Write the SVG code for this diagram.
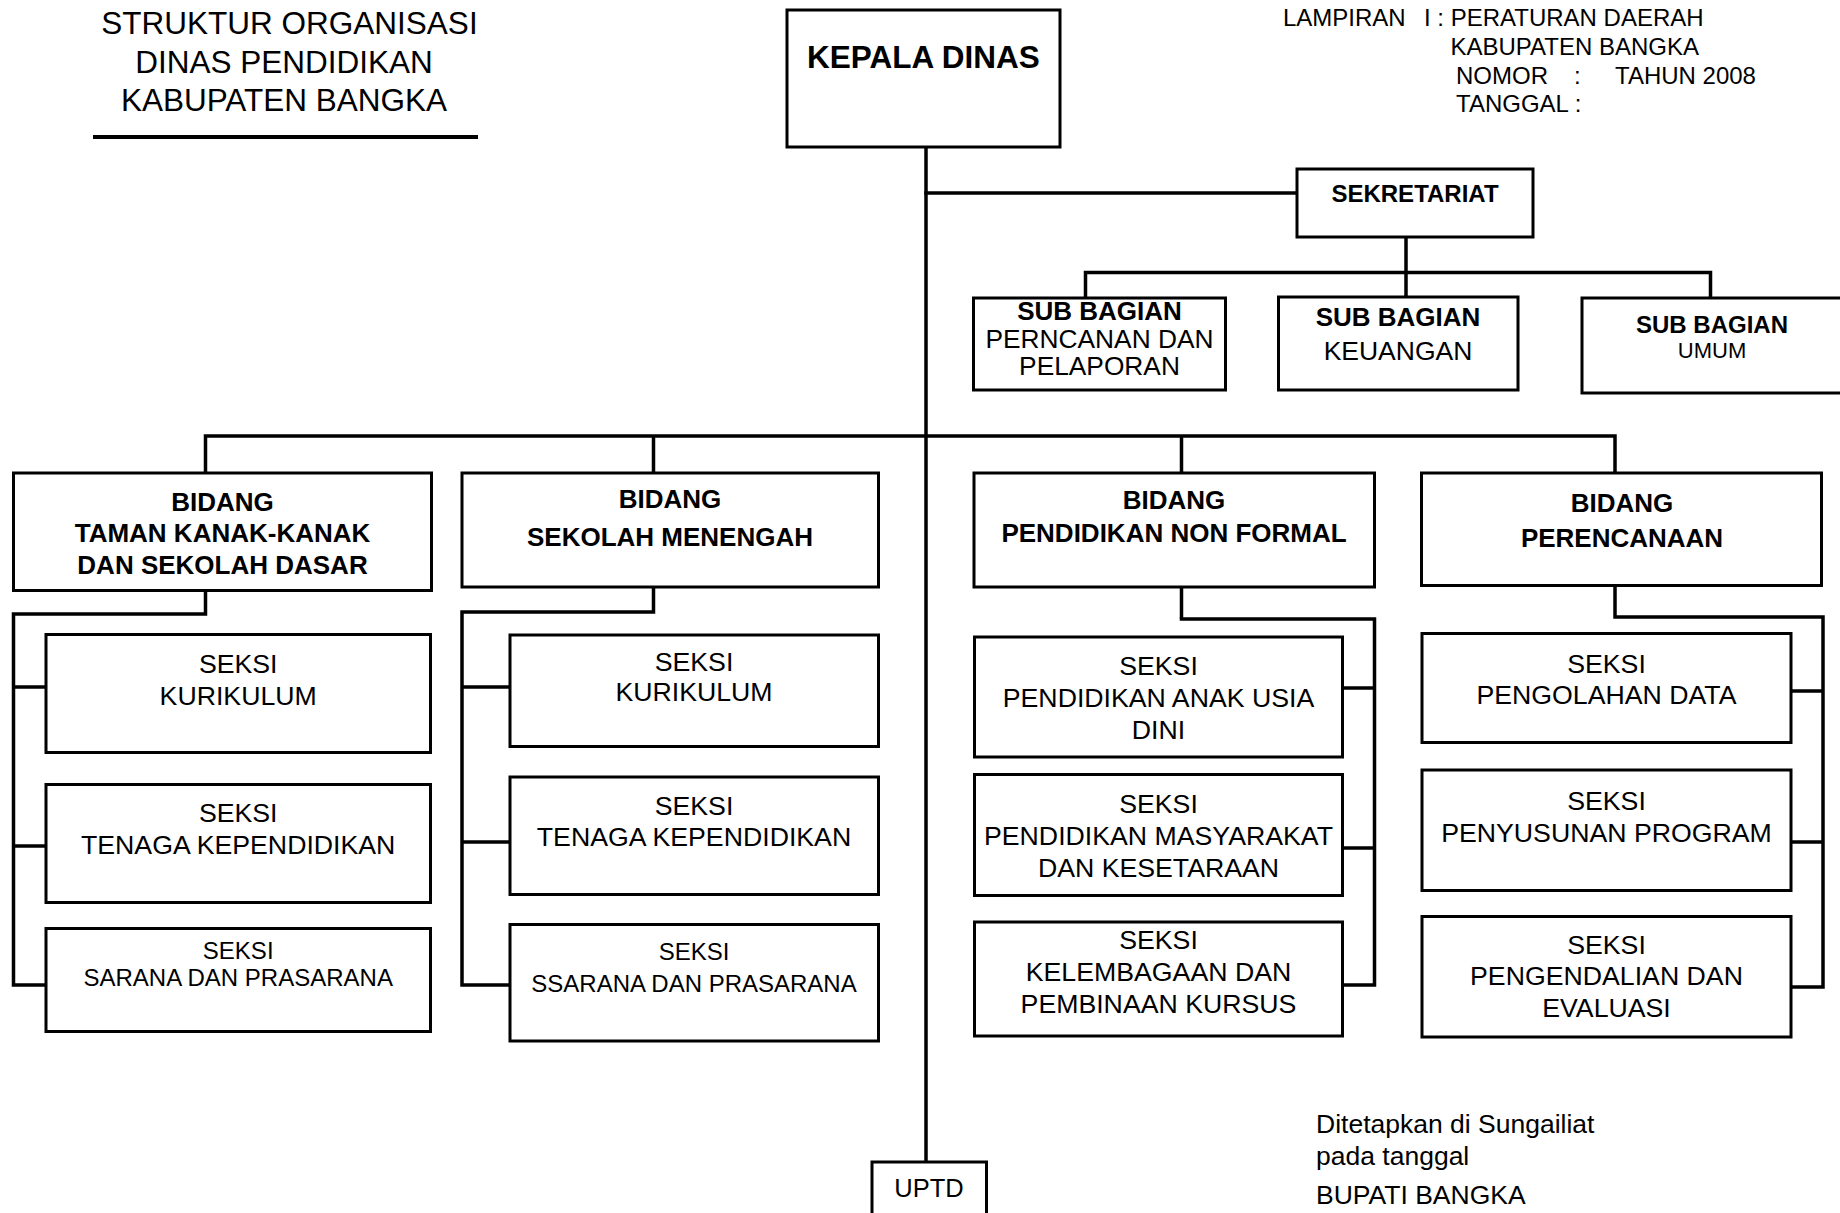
<svg xmlns="http://www.w3.org/2000/svg" width="1840" height="1213" viewBox="0 0 1840 1213">
<style>
.box{fill:#fff;stroke:#000;stroke-width:3}
.ln{stroke:#000;stroke-width:3.5;fill:none;stroke-linecap:square}
text{font-family:"Liberation Sans",Arial,Helvetica,sans-serif;fill:#000}
.b{font-weight:bold}
.c{text-anchor:middle}
.s{font-size:26.7px}
.s2{font-size:24px}
.bd{font-size:26px;font-weight:bold}
</style>
<rect x="0" y="0" width="1840" height="1213" fill="#fff"/>

<g id="title">
<text x="289.5" y="34" class="c" font-size="31.5">STRUKTUR ORGANISASI</text>
<text x="284" y="72.5" class="c" font-size="31.5">DINAS PENDIDIKAN</text>
<text x="284" y="111" class="c" font-size="31.5">KABUPATEN BANGKA</text>
<line x1="93" y1="137" x2="478" y2="137" stroke="#000" stroke-width="4"/>
</g>

<g id="lampiran" font-size="24">
<text x="1283" y="26">LAMPIRAN</text>
<text x="1424" y="26">I : PERATURAN DAERAH</text>
<text x="1450.5" y="55">KABUPATEN BANGKA</text>
<text x="1456" y="84">NOMOR</text>
<text x="1574" y="84">:</text>
<text x="1615" y="84">TAHUN 2008</text>
<text x="1456" y="112">TANGGAL :</text>
</g>

<g id="connectors">
<path class="ln" d="M926 147 V1162"/>
<path class="ln" d="M926 193 H1297"/>
<path class="ln" d="M1406 237 V272.5 M1085.5 272.5 H1710.5 M1085.5 272.5 V297 M1406 272.5 V297 M1710.5 272.5 V297"/>
<path class="ln" d="M205.5 436 H1615 M205.5 436 V473 M653.5 436 V473 M1181.5 436 V473 M1615 436 V473"/>
<path class="ln" d="M205.5 590.5 V614 H13.5 V985 M13.5 687 H46 M13.5 846 H46 M13.5 985 H46"/>
<path class="ln" d="M653.5 587 V612 H462 V985 M462 687 H510 M462 842 H510 M462 985 H510"/>
<path class="ln" d="M1181.5 587 V617"/>
<path class="ln" d="M1181.5 619 H1374.5 V985 M1343 688 H1374.5 M1343 848 H1374.5 M1343 985 H1374.5"/>
<path class="ln" d="M1615 585 V617 H1823 V987 M1791 691 H1823 M1791 842 H1823 M1791 987 H1823"/>
</g>

<g id="kepala-dinas">
<rect class="box" x="787" y="10" width="273" height="137"/>
<text x="923.5" y="68" class="c b" font-size="31.5">KEPALA DINAS</text>
</g>

<g id="sekretariat">
<rect class="box" x="1297" y="169" width="236" height="68"/>
<text x="1415" y="201.5" class="c b" font-size="24">SEKRETARIAT</text>
</g>

<g id="subbag-perencanaan">
<rect class="box" x="973.5" y="298" width="252" height="92"/>
<text x="1099.5" y="320" class="c bd">SUB BAGIAN</text>
<text x="1099.5" y="347.5" class="c" font-size="26.3">PERNCANAN DAN</text>
<text x="1099.5" y="375" class="c" font-size="26.3">PELAPORAN</text>
</g>

<g id="subbag-keuangan">
<rect class="box" x="1278.5" y="297" width="239.5" height="93"/>
<text x="1398" y="326" class="c bd">SUB BAGIAN</text>
<text x="1398" y="360" class="c" font-size="26.5">KEUANGAN</text>
</g>

<g id="subbag-umum">
<rect class="box" x="1582" y="298" width="270" height="95"/>
<text x="1712" y="333" class="c b" font-size="24">SUB BAGIAN</text>
<text x="1712" y="358" class="c" font-size="22">UMUM</text>
</g>

<g id="bidang-tk-sd">
<rect class="box" x="13.5" y="473" width="418" height="117.5"/>
<text x="222.5" y="510.5" class="c bd">BIDANG</text>
<text x="222.5" y="541.5" class="c bd">TAMAN KANAK-KANAK</text>
<text x="222.5" y="573.5" class="c bd">DAN SEKOLAH DASAR</text>
</g>

<g id="bidang-sm">
<rect class="box" x="462" y="473" width="416.5" height="114"/>
<text x="670" y="508" class="c bd">BIDANG</text>
<text x="670" y="546" class="c bd">SEKOLAH MENENGAH</text>
</g>

<g id="bidang-pnf">
<rect class="box" x="974" y="473" width="400.5" height="114"/>
<text x="1174" y="509" class="c bd">BIDANG</text>
<text x="1174" y="542" class="c bd">PENDIDIKAN NON FORMAL</text>
</g>

<g id="bidang-perencanaan">
<rect class="box" x="1421.5" y="473" width="400" height="112.5"/>
<text x="1622" y="512" class="c bd">BIDANG</text>
<text x="1622" y="547" class="c bd">PERENCANAAN</text>
</g>

<g id="seksi-a1">
<rect class="box" x="46" y="634.5" width="384.5" height="118"/>
<text x="238.2" y="672.5" class="c s">SEKSI</text>
<text x="238.2" y="704.5" class="c s">KURIKULUM</text>
</g>
<g id="seksi-a2">
<rect class="box" x="46" y="784.5" width="384.5" height="118"/>
<text x="238.2" y="821.5" class="c s">SEKSI</text>
<text x="238.2" y="853.5" class="c s">TENAGA KEPENDIDIKAN</text>
</g>
<g id="seksi-a3">
<rect class="box" x="46" y="928.5" width="384.5" height="103"/>
<text x="238.2" y="958.5" class="c s2">SEKSI</text>
<text x="238.2" y="985.5" class="c s2">SARANA DAN PRASARANA</text>
</g>

<g id="seksi-b1">
<rect class="box" x="510" y="635" width="368.5" height="111.5"/>
<text x="694" y="670.5" class="c s">SEKSI</text>
<text x="694" y="701" class="c s">KURIKULUM</text>
</g>
<g id="seksi-b2">
<rect class="box" x="510" y="777" width="368.5" height="117.5"/>
<text x="694" y="814.5" class="c s">SEKSI</text>
<text x="694" y="846" class="c s">TENAGA KEPENDIDIKAN</text>
</g>
<g id="seksi-b3">
<rect class="box" x="510" y="924.5" width="368.5" height="116.5"/>
<text x="694" y="960" class="c s2">SEKSI</text>
<text x="694" y="991.5" class="c s2">SSARANA DAN PRASARANA</text>
</g>

<g id="seksi-c1">
<rect class="box" x="974.5" y="637" width="368" height="120"/>
<text x="1158.5" y="675" class="c s">SEKSI</text>
<text x="1158.5" y="707" class="c s">PENDIDIKAN ANAK USIA</text>
<text x="1158.5" y="738.5" class="c s">DINI</text>
</g>
<g id="seksi-c2">
<rect class="box" x="974.5" y="774.5" width="368" height="121"/>
<text x="1158.5" y="812.5" class="c s">SEKSI</text>
<text x="1158.5" y="845" class="c s">PENDIDIKAN MASYARAKAT</text>
<text x="1158.5" y="876.5" class="c s">DAN KESETARAAN</text>
</g>
<g id="seksi-c3">
<rect class="box" x="974.5" y="922" width="368" height="114"/>
<text x="1158.5" y="949" class="c s">SEKSI</text>
<text x="1158.5" y="981" class="c s">KELEMBAGAAN DAN</text>
<text x="1158.5" y="1013" class="c s">PEMBINAAN KURSUS</text>
</g>

<g id="seksi-d1">
<rect class="box" x="1422" y="633.5" width="369" height="109"/>
<text x="1606.5" y="672.5" class="c s">SEKSI</text>
<text x="1606.5" y="704" class="c s">PENGOLAHAN DATA</text>
</g>
<g id="seksi-d2">
<rect class="box" x="1422" y="770" width="369" height="120.5"/>
<text x="1606.5" y="809.5" class="c s">SEKSI</text>
<text x="1606.5" y="841.5" class="c s">PENYUSUNAN PROGRAM</text>
</g>
<g id="seksi-d3">
<rect class="box" x="1422" y="916.5" width="369" height="120.5"/>
<text x="1606.5" y="953.5" class="c s">SEKSI</text>
<text x="1606.5" y="985" class="c s">PENGENDALIAN DAN</text>
<text x="1606.5" y="1017" class="c s">EVALUASI</text>
</g>

<g id="uptd">
<rect class="box" x="872" y="1162" width="114.5" height="60"/>
<text x="929" y="1197" class="c" font-size="25.5">UPTD</text>
</g>

<g id="pengesahan" font-size="26.5">
<text x="1316" y="1133">Ditetapkan di Sungailiat</text>
<text x="1316" y="1164.5">pada tanggal</text>
<text x="1316" y="1203.5">BUPATI BANGKA</text>
</g>
</svg>
